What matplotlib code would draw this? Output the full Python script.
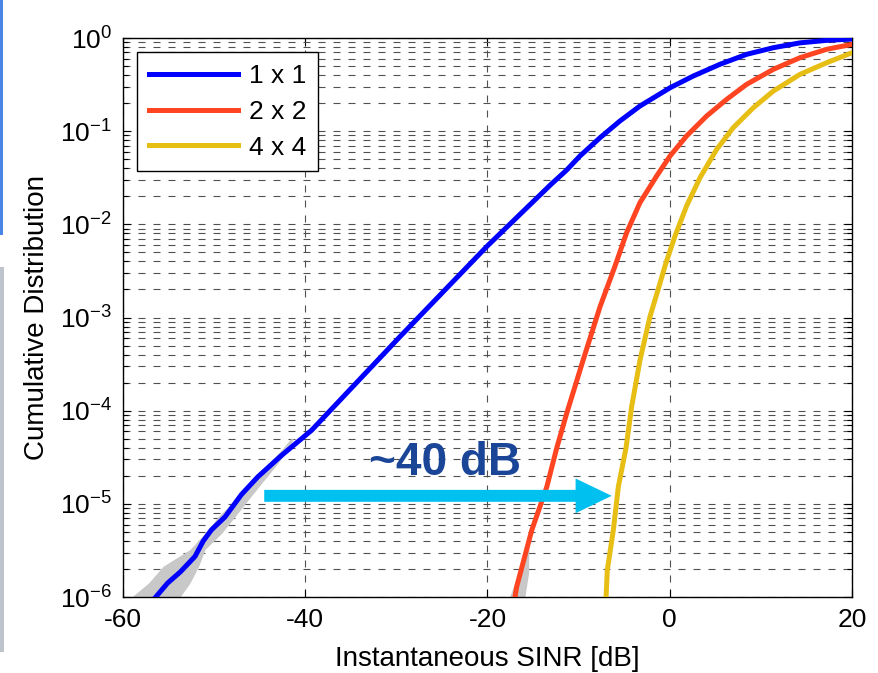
import matplotlib
matplotlib.use("Agg")
import matplotlib.pyplot as plt
import matplotlib.ticker as mticker
from matplotlib.patches import Rectangle
import numpy as np

plt.rcParams['font.family'] = ['Liberation Sans', 'DejaVu Sans']
plt.rcParams['mathtext.fontset'] = 'custom'
plt.rcParams['mathtext.rm'] = 'Liberation Sans'
plt.rcParams['mathtext.it'] = 'Liberation Sans'
plt.rcParams['axes.unicode_minus'] = False

# ---- data (SINR in dB, log10 of cumulative probability) ----
sinr_1x1 = [-56.4, -55.1, -53.7, -52.1, -51.2, -50.3, -48.8, -47.0, -45.2, -42.6,
            -39.3, -29.6, -20.1, -13.1, -11.3, -9.85, -7.65, -5.46, -3.27,
            0.05, 2.58, 5.51, 8.44, 11.37, 14.29, 17.22, 19.8]
log_cdf_1x1 = [-6.0, -5.85, -5.73, -5.565, -5.40, -5.28, -5.14, -4.90, -4.71, -4.48,
               -4.21, -3.205, -2.24, -1.577, -1.416, -1.266, -1.07, -0.89, -0.73,
               -0.533, -0.408, -0.282, -0.175, -0.104, -0.052, -0.025, -0.012]

sinr_2x2 = [-16.98, -16.8, -15.15, -13.5, -12.4, -11.3, -9.5, -7.65, -6.0, -4.73,
            -3.27, -1.43, 0.03, 1.86, 4.05, 6.25, 8.44, 11.37, 14.29, 17.22, 20.0]
log_cdf_2x2 = [-6.0, -5.89, -5.285, -4.82, -4.40, -4.026, -3.455, -2.884, -2.446, -2.089,
               -1.767, -1.48, -1.266, -1.05, -0.837, -0.658, -0.497, -0.336, -0.211, -0.121, -0.068]

sinr_4x4 = [-6.99, -6.85, -6.19, -5.64, -4.80, -4.18, -3.26, -2.17, -1.07, -0.52,
            0.58, 1.86, 3.32, 5.15, 6.97, 9.17, 11.37, 14.29, 17.22, 20.0]
log_cdf_4x4 = [-6.0, -5.71, -5.28, -4.815, -4.40, -3.956, -3.455, -2.99, -2.632, -2.446,
               -2.124, -1.80, -1.499, -1.195, -0.962, -0.748, -0.569, -0.39, -0.265, -0.158]

# confidence band around the 1x1 curve (low tail)
band_1x1_log = [-6.0, -5.85, -5.67, -5.49, -5.315, -5.136, -4.957, -4.78, -4.6, -4.42, -4.3]
band_1x1_lo = [-59.05, -57.2, -55.6, -52.65, -51.0, -49.54, -47.7, -46.06, -44.4, -42.6, -41.6]
band_1x1_hi = [-53.74, -52.65, -51.7, -51.0, -49.17, -47.7, -46.25, -44.8, -43.3, -41.86, -41.3]

# confidence band around the 2x2 curve (low tail)
band_2x2_log = [-6.0, -5.75, -5.45]
band_2x2_lo = [-17.6, -16.6, -15.75]
band_2x2_hi = [-15.9, -15.5, -15.45]

labels = ['1 x 1', '2 x 2', '4 x 4']
colors = ['#0000FF', '#FF4422', '#E6BE14']

x_ticks = [-60, -40, -20, 0, 20]
y_tick_exps = [-6, -5, -4, -3, -2, -1, 0]

arrow_start = -44.5
arrow_end = -6.37
arrow_log_y = -4.914
annot_text = '~40 dB'
annot_x = -24.66
annot_log_y = -4.689

# ---- figure ----
fig = plt.figure(figsize=(8.79, 6.73), dpi=100)
ax = fig.add_axes([0.1399, 0.1129, 0.8294, 0.8306])

# left-edge decorations
fig.patches.append(Rectangle((0, 0.6508), 3.5 / 879, 0.3492, transform=fig.transFigure,
                             facecolor='#4A86E8', edgecolor='none'))
fig.patches.append(Rectangle((0, 0.0312), 4.0 / 879, 0.5721, transform=fig.transFigure,
                             facecolor='#BEC3CC', edgecolor='none'))

dash = (0, (6.3, 7.2))
ax.set_axisbelow(True)
ax.grid(True, which='both', axis='y', linestyle=dash, color='#505050', linewidth=0.8)
ax.grid(True, which='major', axis='x', linestyle=dash, color='#505050', linewidth=0.8)

p = lambda L: 10.0 ** np.asarray(L)

ax.fill_betweenx(p(band_1x1_log), band_1x1_lo, band_1x1_hi, color='#C8C8C8', lw=0, zorder=2)
ax.fill_betweenx(p(band_2x2_log), band_2x2_lo, band_2x2_hi, color='#C8C8C8', lw=0, zorder=2)

for xs, ls, lab, c in zip([sinr_1x1, sinr_2x2, sinr_4x4],
                          [log_cdf_1x1, log_cdf_2x2, log_cdf_4x4], labels, colors):
    ax.plot(xs, p(ls), color=c, lw=3.6, label=lab, zorder=3, solid_joinstyle='round')

ax.set_yscale('log')
ax.set_xlim(-60, 20)
ax.set_ylim(1e-6, 1)
ax.set_xticks(x_ticks)
ax.set_xticklabels([str(v) for v in x_ticks])
ax.set_yticks([10.0 ** e for e in y_tick_exps])
ax.set_yticklabels(['$10^{%d}$' % e for e in y_tick_exps])
ax.yaxis.set_minor_locator(mticker.LogLocator(base=10, subs=np.arange(2, 10), numticks=20))
ax.yaxis.set_minor_formatter(mticker.NullFormatter())

ax.tick_params(which='both', direction='in', top=True, right=True, width=0.8, colors='black')
ax.tick_params(which='major', length=6, labelsize=19, pad=8)
ax.tick_params(which='minor', length=3.5)
for s in ax.spines.values():
    s.set_linewidth(1.0)
    s.set_color('black')

ax.set_xlabel('Instantaneous SINR [dB]', fontsize=20, labelpad=10)
ax.set_ylabel('Cumulative Distribution', fontsize=20)
ax.yaxis.set_label_coords(-0.100, 0.5)

# arrow and annotation
ax.annotate('', xy=(arrow_end, 10 ** arrow_log_y), xytext=(arrow_start, 10 ** arrow_log_y),
            arrowprops=dict(width=8.6, headwidth=25, headlength=26, shrink=0,
                            facecolor='#00C0F0', edgecolor='none', lw=0), zorder=4)
ax.text(annot_x, 10 ** annot_log_y, annot_text, fontsize=33, fontweight='bold',
        color='#1B4698', ha='center', va='baseline', zorder=5)

leg = ax.legend(loc='upper left', bbox_to_anchor=(0.019, 0.975), borderaxespad=0,
                fontsize=19, handlelength=3.4, handletextpad=0.4, labelspacing=0.45,
                borderpad=0.45, fancybox=False, framealpha=1, edgecolor='black')
leg.get_frame().set_linewidth(1.0)
leg.set_zorder(6)

fig.savefig('out.png', dpi=100)
